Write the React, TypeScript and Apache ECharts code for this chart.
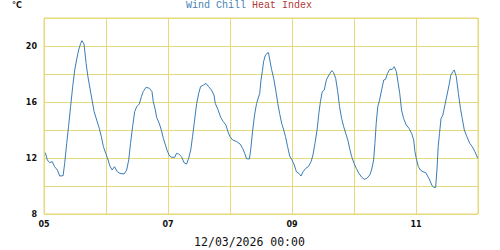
import { useEffect, useRef } from 'react';
import * as echarts from 'echarts';

// hours since 05 00:00
const hours = [
  0.5, 1.3, 2.2, 3.2, 4.1, 5.2, 6.1, 7.4, 8, 8.8,
  9.5, 10.3, 11.1, 11.9, 12.6, 13.4, 14.2, 14.7, 15.5, 16.3,
  17, 17.8, 18.6, 19.4, 20.4, 21.4, 22.2, 23, 23.9, 24.8,
  25.5, 26.4, 27.3, 28.4, 29.4, 31, 32, 32.8, 33.5, 34.3,
  35.1, 35.9, 36.9, 37.7, 38.4, 39.5, 40.8, 41.8, 42.3, 43.1,
  43.6, 44.6, 45.4, 46.2, 47, 47.7, 48.6, 49.5, 50.6, 51.3,
  52.1, 53.2, 54.2, 55.2, 56, 56.8, 57.5, 58.3, 59.1, 59.9,
  60.6, 61.7, 62.7, 63.7, 64.8, 65.8, 66.3, 67.4, 68.4, 69.4,
  70.4, 71.2, 72, 73, 74.6, 75.9, 76.9, 77.7, 78.4, 79.5,
  80, 80.8, 81.5, 82.3,
  83.5, 84, 84.5, 85, 85.6, 86.3, 86.9, 87.4, 88.1, 88.9,
  89.7, 90.5, 91.2, 92, 92.8, 93.5, 94.3, 95.1, 96, 96.9,
  97.7, 98.7, 99.5, 100.3, 101.3, 102.3, 103.4, 104.1, 104.9, 105.7,
  106.4, 107, 107.7, 108.5, 109.3, 110.3, 111.4, 112.1, 112.9, 113.7,
  114.4, 115.2, 116, 116.8, 117.6, 118.3, 119.1, 120, 120.9, 121.9,
  123, 124, 125, 126.1, 126.8, 127.6, 128.1, 128.6, 129.2, 129.9,
  130.7, 131.5, 132.2, 133, 133.8, 134.8, 135.6, 136.4, 136.9, 137.7,
  138.4, 139.2, 140.2, 141.3, 142.3, 143.1, 143.6, 144.1, 144.9, 145.7,
  146.7, 147.8, 148.5, 149.3, 150.1, 150.9, 151.6, 152.1, 152.6, 153.1,
  153.7, 154.4, 155.2, 156, 156.8, 157.5, 158.3, 158.8, 159.6, 160.4,
  161.2, 161.9, 162.7, 163.7, 164.8, 165.8, 166.8, 167.9,
];

const windChill = [
  12.38, 11.86, 11.67, 11.74, 11.38, 11.14, 10.71, 10.74, 11.62, 13.05,
  14.24, 15.67, 17.1, 18.29, 19.0, 19.71, 20.19, 20.38, 20.14, 18.76,
  17.81, 16.98, 16.14, 15.31, 14.71, 14.12, 13.52, 12.81, 12.33, 11.86,
  11.43, 11.14, 11.38, 11.02, 10.9, 10.86, 11.14, 11.86, 13.05, 14.24,
  15.31, 15.67, 15.86, 16.38, 16.74, 17.05, 16.98, 16.74, 16.02, 15.43,
  14.9, 14.48, 14.0, 13.4, 12.93, 12.52, 12.14, 12.05, 12.05, 12.33,
  12.29, 12.1, 11.67, 11.57, 11.98, 12.57, 13.52, 14.71, 15.9, 16.62,
  17.1, 17.21, 17.33, 17.1, 16.86, 16.5, 15.9, 15.43, 14.9, 14.6,
  14.36, 13.88, 13.52, 13.29, 13.17, 13.0, 12.69, 12.33, 11.95, 11.93,
  12.57, 14.0, 15.07, 15.9,
  16.62, 17.57, 18.17, 18.88, 19.29, 19.48, 19.52, 19.0, 18.33, 17.69,
  16.86, 15.9, 15.19, 14.48, 14.0, 13.52, 12.81, 12.14, 11.86, 11.5,
  11.02, 10.9, 10.71, 11.02, 11.26, 11.38, 11.74, 12.21, 13.05, 14.0,
  15.19, 16.02, 16.74, 16.86, 17.57, 17.93, 18.24, 18.1, 17.69, 16.74,
  15.67, 14.83, 14.24, 13.76, 13.29, 12.69, 12.1, 11.62, 11.26, 10.9,
  10.62, 10.48, 10.55, 10.79, 11.14, 11.86, 13.05, 14.48, 15.67, 16.14,
  16.86, 17.57, 17.62, 18.05, 18.33, 18.33, 18.52, 18.17, 17.57, 16.62,
  15.43, 14.83, 14.36, 14.12, 13.76, 13.29, 12.45, 11.98, 11.38, 11.14,
  11.02, 10.95, 10.71, 10.43, 10.07, 9.9, 9.9, 11.14, 12.81, 13.76,
  14.83, 15.07, 15.79, 16.5, 17.21, 17.93, 18.17, 18.29, 17.81, 16.62,
  15.55, 14.83, 14.0, 13.52, 13.05, 12.81, 12.45, 11.98,
];

const dayLabels = ['05', '06', '07', '08', '09', '10', '11', '12'];
const yTickLabels = [8, 12, 16, 20];
const unitLabel = '°C';
const legendWindChill = 'Wind Chill';
const legendHeatIndex = 'Heat Index';
const footerLabel = '12/03/2026 00:00';

export default function App() {
  const ref = useRef<HTMLDivElement>(null);

  useEffect(() => {
    const chart = echarts.init(ref.current!, null, { renderer: 'svg' });
    const gridColor = '#e6da7a';
    const labelStyle = {
      color: '#111',
      fontFamily: 'DejaVu Sans',
      fontWeight: 'bold',
      fontSize: 8,
    };
    chart.setOption({
      animation: false,
      grid: {
        left: 44,
        right: 22,
        top: 18,
        bottom: 36,
        show: true,
        borderColor: gridColor,
        borderWidth: 1,
        backgroundColor: 'transparent',
      },
      xAxis: {
        type: 'value',
        min: 0,
        max: 168,
        interval: 24,
        axisLine: { show: false },
        axisTick: { show: false },
        splitLine: { show: true, lineStyle: { color: gridColor, width: 1 } },
        axisLabel: {
          ...labelStyle,
          margin: 6,
          formatter: (v: number) => {
            const i = Math.round(v / 24);
            return i % 2 === 0 && i < 7 ? dayLabels[i] : '';
          },
        },
      },
      yAxis: {
        type: 'value',
        min: 8,
        max: 22,
        interval: 2,
        axisLine: { show: false },
        axisTick: { show: false },
        splitLine: { show: true, lineStyle: { color: gridColor, width: 1 } },
        axisLabel: {
          ...labelStyle,
          margin: 7,
          formatter: (v: number) => (yTickLabels.includes(v) ? String(v) : ''),
        },
      },
      series: [
        {
          type: 'line',
          data: hours.map((h, i) => [h, windChill[i]]),
          symbol: 'none',
          showSymbol: false,
          lineStyle: { color: '#3b7cb6', width: 1 },
        },
      ],
      graphic: [
        {
          type: 'text',
          x: 12,
          y: 5.5,
          style: {
            text: unitLabel,
            fill: '#111',
            font: 'bold 8px "DejaVu Sans"',
            textVerticalAlign: 'middle',
          },
        },
        {
          type: 'text',
          x: 186,
          y: 5.5,
          style: {
            text: legendWindChill,
            fill: '#4682b4',
            font: '10px "Liberation Mono"',
            textVerticalAlign: 'middle',
          },
        },
        {
          type: 'text',
          x: 252,
          y: 5.5,
          style: {
            text: legendHeatIndex,
            fill: '#b03a3a',
            font: '10px "Liberation Mono"',
            textVerticalAlign: 'middle',
          },
        },
        {
          type: 'text',
          x: 249.5,
          y: 241.5,
          style: {
            text: footerLabel,
            fill: '#111',
            font: '11.5px "DejaVu Sans Mono"',
            textAlign: 'center',
            textVerticalAlign: 'middle',
          },
        },
      ],
    });
    return () => chart.dispose();
  }, []);

  return (
    <div
      ref={ref}
      style={{ position: 'absolute', left: 0, top: 0, width: 500, height: 250, background: '#fff' }}
    />
  );
}
